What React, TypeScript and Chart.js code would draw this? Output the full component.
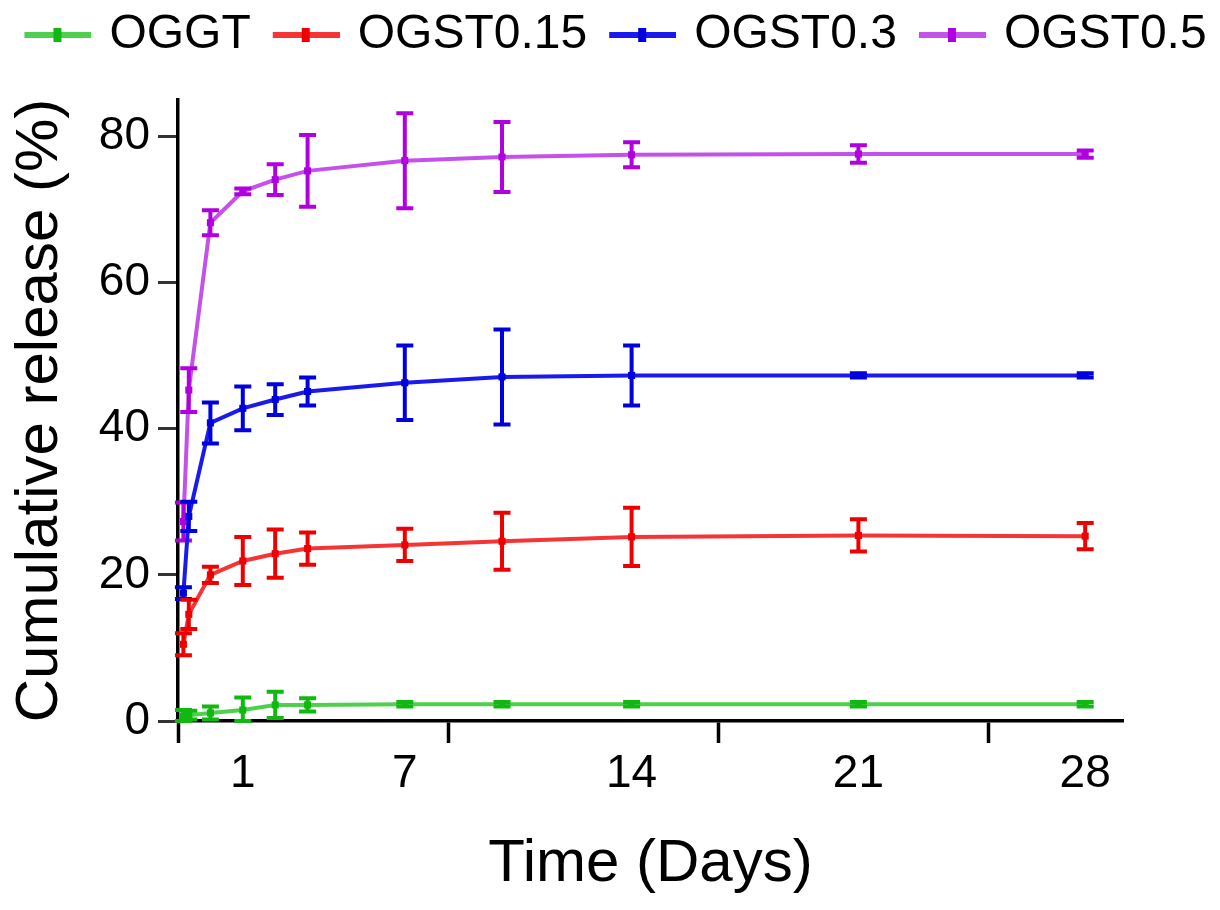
import React, { useEffect, useRef } from 'react';
import { Chart, registerables } from 'chart.js';

Chart.register(...registerables);

// sampling times in hours (x axis is linear in hours, labelled in days)
const hours = [4, 8, 24, 48, 72, 96, 168, 240, 336, 504, 672];

const seriesNames = ['OGGT', 'OGST0.15', 'OGST0.3', 'OGST0.5'];

const oggt = [0.6, 0.8, 1.1, 1.5, 2.2, 2.2, 2.3, 2.3, 2.3, 2.3, 2.3];
const oggtErr = [0.9, 0.6, 0.9, 1.7, 1.8, 0.9, 0.3, 0.3, 0.3, 0.3, 0.3];

const ogst015 = [10.5, 14.6, 20.0, 21.9, 22.9, 23.6, 24.1, 24.6, 25.2, 25.4, 25.3];
const ogst015Err = [1.5, 2.0, 1.1, 3.3, 3.3, 2.2, 2.2, 3.9, 4.0, 2.2, 1.8];

const ogst03 = [17.5, 28.0, 40.8, 42.8, 44.0, 45.1, 46.3, 47.1, 47.3, 47.3, 47.3];
const ogst03Err = [0.8, 2.0, 2.8, 3.0, 2.1, 1.9, 5.1, 6.5, 4.1, 0.3, 0.3];

const ogst05 = [27.3, 45.3, 68.2, 72.5, 74.1, 75.3, 76.7, 77.2, 77.5, 77.6, 77.6];
const ogst05Err = [2.6, 3.0, 1.7, 0.4, 2.1, 4.9, 6.5, 4.8, 1.7, 1.2, 0.5];

// x tick labels sit at these hours, tick marks at the others
const labelTickHours = [48, 168, 336, 504, 672];
const labelTickText = ['1', '7', '14', '21', '28'];
const markTickHours = [0, 200, 400, 600];
const yTicks = [0, 20, 40, 60, 80];

const lineColors = ['#4fcf4f', '#f53535', '#1a1aee', '#c452ea'];
const markColors = ['#10b810', '#ee0000', '#0000dd', '#b000e0'];

const FONT = 'Liberation Sans';

// legend sample: a short line with a small marker in the middle
function makeSwatch(line: string, mark: string) {
  const c = document.createElement('canvas');
  c.width = 84;
  c.height = 18;
  const g = c.getContext('2d')!;
  g.fillStyle = line;
  g.fillRect(17, 6, 67, 6);
  g.fillStyle = mark;
  g.fillRect(46, 2, 8, 14);
  return c;
}

const errorBars = {
  id: 'errorBars',
  afterDatasetDraw(chart: any, args: any) {
    const ds = chart.data.datasets[args.index];
    const errs: number[] = ds.errors;
    if (!errs) return;
    const { ctx } = chart;
    const xs = chart.scales.x;
    const ys = chart.scales.y;
    ctx.save();
    ctx.strokeStyle = ds.pointBackgroundColor;
    ctx.lineWidth = 4;
    ds.data.forEach((p: any, i: number) => {
      const e = errs[i];
      if (!e) return;
      const x = xs.getPixelForValue(p.x);
      const top = ys.getPixelForValue(p.y + e);
      const bot = ys.getPixelForValue(Math.max(0, p.y - e));
      ctx.beginPath();
      ctx.moveTo(x, top);
      ctx.lineTo(x, bot);
      ctx.moveTo(x - 8.5, top);
      ctx.lineTo(x + 8.5, top);
      ctx.moveTo(x - 8.5, bot);
      ctx.lineTo(x + 8.5, bot);
      ctx.stroke();
    });
    ctx.restore();
  },
};

// leave room under the legend
const legendSpace = {
  id: 'legendSpace',
  beforeLayout(chart: any) {
    const lg = chart.legend;
    if (!lg || lg._patched) return;
    const fit = lg.fit;
    lg.fit = function () {
      fit.call(this);
      this.height = 100;
    };
    lg._patched = true;
  },
};

const App: React.FC = () => {
  const canvasRef = useRef<HTMLCanvasElement>(null);

  useEffect(() => {
    document.body.style.margin = '0';
    if (!canvasRef.current) return;
    Chart.defaults.font.family = FONT;
    Chart.defaults.color = '#000';

    const series = [oggt, ogst015, ogst03, ogst05];
    const errors = [oggtErr, ogst015Err, ogst03Err, ogst05Err];

    const chart = new Chart(canvasRef.current, {
      type: 'line',
      data: {
        datasets: seriesNames.map((name, i) => ({
          label: name,
          data: hours.map((h, j) => ({ x: h, y: series[i][j] })),
          errors: errors[i],
          borderColor: lineColors[i],
          backgroundColor: lineColors[i],
          pointBackgroundColor: markColors[i],
          pointBorderColor: markColors[i],
          pointStyle: 'rect',
          pointRadius: 5,
          pointBorderWidth: 0,
          borderWidth: 4,
          tension: 0,
          fill: false,
        })) as any,
      },
      options: {
        responsive: false,
        animation: false,
        events: [],
        layout: { padding: 0 },
        plugins: {
          tooltip: { enabled: false },
          legend: {
            position: 'top',
            labels: {
              usePointStyle: true,
              pointStyleWidth: 72,
              padding: 11,
              color: '#000',
              font: { family: FONT, size: 48 },
              generateLabels: (c: any) =>
                c.data.datasets.map((ds: any, i: number) => ({
                  text: ds.label,
                  fillStyle: ds.borderColor,
                  strokeStyle: ds.borderColor,
                  lineWidth: 1,
                  hidden: false,
                  datasetIndex: i,
                  fontColor: '#000',
                  pointStyle: makeSwatch(ds.borderColor, ds.pointBackgroundColor),
                })),
            },
          },
        },
        scales: {
          x: {
            type: 'linear',
            min: 0,
            max: 700,
            afterBuildTicks: (s: any) => {
              s.ticks = [...markTickHours, ...labelTickHours]
                .sort((a, b) => a - b)
                .map((v) => ({ value: v }));
            },
            afterFit: (s: any) => {
              s.height = 189;
            },
            ticks: {
              autoSkip: false,
              maxRotation: 0,
              padding: 4,
              font: { size: 46 },
              color: '#000',
              callback: (v: any) => {
                const k = labelTickHours.indexOf(Number(v));
                return k >= 0 ? labelTickText[k] : '';
              },
            },
            grid: {
              drawOnChartArea: false,
              drawTicks: true,
              tickLength: 22,
              tickWidth: 3.5,
              tickColor: (ctx: any) =>
                markTickHours.includes(ctx.tick?.value) ? '#000' : 'rgba(0,0,0,0)',
            },
            border: { display: true, color: '#000', width: 3.5 },
            title: {
              display: true,
              text: 'Time (Days)',
              color: '#000',
              font: { size: 60, lineHeight: 1 },
              padding: { top: 0, bottom: 16 },
            },
          },
          y: {
            type: 'linear',
            min: 0,
            max: 85,
            afterBuildTicks: (s: any) => {
              s.ticks = yTicks.map((v) => ({ value: v }));
            },
            afterFit: (s: any) => {
              s.width = 178;
            },
            ticks: {
              padding: 8,
              font: { size: 46 },
              color: '#000',
            },
            grid: {
              drawOnChartArea: false,
              drawTicks: true,
              tickLength: 20,
              tickWidth: 3,
              tickColor: '#333',
            },
            border: { display: true, color: '#000', width: 3.5 },
            title: {
              display: true,
              text: 'Cumulative release (%)',
              color: '#000',
              font: { size: 60, lineHeight: 1 },
              padding: { top: 10, bottom: 0 },
            },
          },
          yR: {
            type: 'linear',
            axis: 'y',
            position: 'right',
            display: true,
            ticks: { display: false },
            grid: { display: false },
            border: { display: false },
            afterFit: (s: any) => {
              s.width = 97;
            },
          },
        },
      } as any,
      plugins: [errorBars, legendSpace],
    });

    return () => chart.destroy();
  }, []);

  return (
    <div style={{ width: 1220, height: 910, overflow: 'hidden', background: '#fff' }}>
      <canvas ref={canvasRef} width={1220} height={910} style={{ display: 'block' }} />
    </div>
  );
};

export default App;
